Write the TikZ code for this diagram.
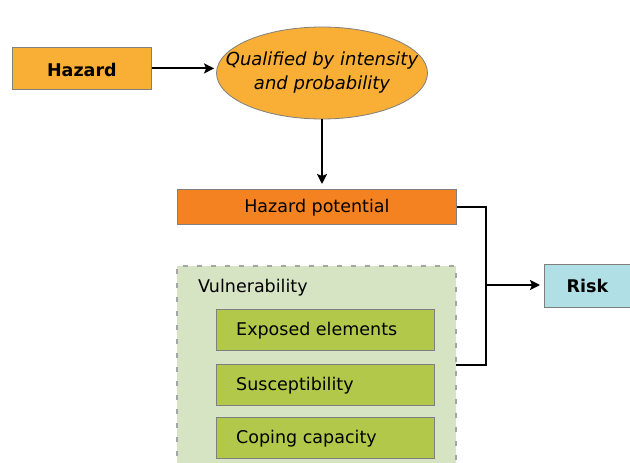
\documentclass[tikz,border=0pt]{standalone}
\usepackage{fontspec}
\setmainfont{DejaVu Sans}
\usetikzlibrary{shapes.geometric,arrows.meta}
\definecolor{hazfill}{HTML}{F9AE35}
\definecolor{potfill}{HTML}{F58220}
\definecolor{vulfill}{HTML}{D7E4C4}
\definecolor{elfill}{HTML}{B2C84A}
\definecolor{riskfill}{HTML}{B0E0E6}
\definecolor{edge}{HTML}{7F7F7F}
\tikzset{
  px/.style={x=1pt,y=-1pt},
  box/.style={draw=edge,line width=0.8pt,inner sep=0pt,anchor=north west},
  conn/.style={line width=2pt,draw=black},
  arr/.style={conn,-{Stealth[length=10pt,width=10pt,inset=2pt]}},
  txt/.style={font=\fontsize{17.5}{21}\selectfont},
  btxt/.style={font=\fontsize{17.5}{21}\selectfont\bfseries}
}
\begin{document}
\begin{tikzpicture}[px]
\useasboundingbox (0,0) rectangle (630,463);
% Hazard
\node[box,fill=hazfill,minimum width=139pt,minimum height=42pt] (hz) at (12,47) {};
\node[btxt] at ([yshift=-2pt]hz.center) {Hazard};
% ellipse
\node[ellipse,draw=edge,line width=0.8pt,fill=hazfill,minimum width=211pt,minimum height=92pt,inner sep=0pt] (q) at (322,73) {};
\node[align=center,font=\fontsize{18}{24}\selectfont\itshape] at (q.center) {Qualified by intensity\\and probability};
% Hazard potential
\node[box,fill=potfill,minimum width=279pt,minimum height=35pt] (hp) at (177,189) {};
\node[txt] at ([yshift=-1pt]hp.center) {Hazard potential};
% Vulnerability container
\path[fill=vulfill] (177,266) rectangle (456,470);
\draw[draw=edge!70,line width=1.2pt,dash pattern=on 5pt off 9pt] (177,470) -- (177,266) -- (456,266) -- (456,470);
\coordinate (vr) at (456,365);
\node[txt,anchor=west,inner sep=0pt] (vt) at (198,288) {Vulnerability};
% elements
\node[box,fill=elfill,minimum width=218pt,minimum height=41pt] (e1) at (216,309) {};
\node[txt,anchor=west,inner sep=0pt] at ([xshift=20pt,yshift=-1pt]e1.west) {Exposed elements};
\node[box,fill=elfill,minimum width=218pt,minimum height=41pt] (e2) at (216,364) {};
\node[txt,anchor=west,inner sep=0pt] at ([xshift=20pt,yshift=-1pt]e2.west) {Susceptibility};
\node[box,fill=elfill,minimum width=218pt,minimum height=41pt] (e3) at (216,417) {};
\node[txt,anchor=west,inner sep=0pt] at ([xshift=20pt,yshift=-1pt]e3.west) {Coping capacity};
% Risk
\node[box,fill=riskfill,minimum width=86pt,minimum height=43pt] (rk) at (544,264) {};
\node[btxt] at (rk.center) {Risk};
% connectors
\draw[arr] (hz.east) -- ([xshift=-2pt]q.west |- hz.east);
\draw[arr] (q.south) -- ([yshift=5pt]q.south |- hp.north);
\coordinate (j) at (486,285);
\draw[conn] (hp.east) -| (j) |- (vr);
\draw[arr] (j) -- ([xshift=-4pt]j -| rk.west);
\end{tikzpicture}
\end{document}
